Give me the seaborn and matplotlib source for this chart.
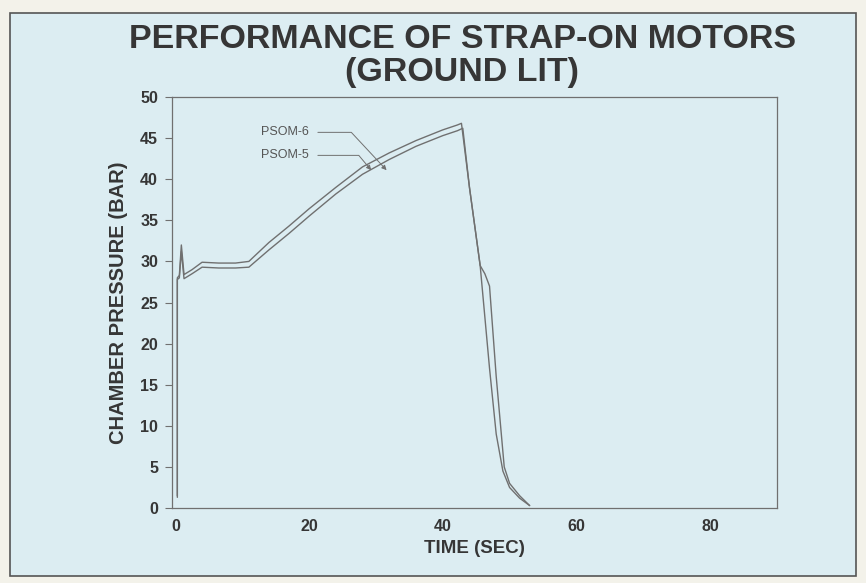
import numpy as np
import pandas as pd
import matplotlib
matplotlib.use("Agg")
import matplotlib.pyplot as plt
import seaborn as sns
from matplotlib.patches import Rectangle

# --- data ---
psom6_time = [0.3, 0.3, 0.6, 0.9, 1.3, 2.5, 4.0, 6.5, 9.0, 11.0, 14.0, 17.0, 20.0, 24.0,
              28.0, 32.0, 36.0, 40.0, 42.2, 42.8, 44.0, 45.6, 46.3, 47.0, 48.0, 49.2,
              50.0, 51.5, 53.0]
psom6_pressure = [1.5, 28.0, 28.3, 32.0, 28.4, 29.0, 29.9, 29.8, 29.8, 30.0, 32.3, 34.3,
                  36.4, 39.0, 41.5, 43.2, 44.7, 46.0, 46.6, 46.8, 39.0, 29.5, 28.5, 27.0,
                  16.0, 5.0, 3.0, 1.5, 0.3]

psom5_time = [0.3, 0.3, 0.6, 0.9, 1.3, 2.5, 4.0, 6.5, 9.0, 11.0, 14.0, 17.0, 20.0, 24.0,
              28.0, 32.0, 36.0, 40.0, 42.2, 43.0, 44.0, 45.6, 47.0, 48.0, 49.0, 50.0,
              51.5, 53.0]
psom5_pressure = [1.3, 27.8, 28.0, 31.2, 27.9, 28.5, 29.3, 29.2, 29.2, 29.3, 31.4, 33.4,
                  35.5, 38.2, 40.6, 42.4, 44.0, 45.3, 45.9, 46.2, 39.0, 29.5, 17.0, 9.0,
                  4.5, 2.5, 1.2, 0.3]

x_major = [0, 20, 40, 60, 80]
x_minor = [10, 30, 50, 70, 90]
y_ticks = [0, 5, 10, 15, 20, 25, 30, 35, 40, 45, 50]

df = pd.concat([
    pd.DataFrame({"time": psom6_time, "pressure": psom6_pressure, "motor": "PSOM-6"}),
    pd.DataFrame({"time": psom5_time, "pressure": psom5_pressure, "motor": "PSOM-5"}),
])

BG = "#dcedf2"
INK = "#363636"
LINE = "#707070"

sns.set_theme(style="white")
plt.rcParams['font.family'] = ['Liberation Sans', 'DejaVu Sans']

fig = plt.figure(figsize=(8.66, 5.83), dpi=100)
fig.patch.set_facecolor("#f3f2ea")
fig.patches.append(Rectangle((0.012, 0.012), 0.976, 0.966, transform=fig.transFigure,
                             facecolor=BG, edgecolor="#555555", linewidth=1.2, zorder=-1))

ax = fig.add_axes([0.1986, 0.1286, 0.6986, 0.705])
ax.set_facecolor(BG)

sns.lineplot(data=df, x="time", y="pressure", units="motor", estimator=None, sort=False,
             color=LINE, linewidth=1.0, ax=ax, legend=False)

ax.set_xlim(-0.5, 90)
ax.set_ylim(0, 50)
ax.set_xticks(x_major)
ax.set_xticks(x_minor, minor=True)
ax.set_yticks(y_ticks)
ax.tick_params(axis="x", which="both", direction="in", length=5, width=0.8, color=LINE,
               labelsize=11.5, labelcolor=INK, pad=8)
ax.tick_params(axis="y", direction="out", length=5, width=0.8, color=LINE,
               labelsize=11.5, labelcolor=INK, left=True, pad=5)
for lab in ax.get_xticklabels() + ax.get_yticklabels():
    lab.set_fontweight("bold")
for sp in ax.spines.values():
    sp.set_color(LINE)
    sp.set_linewidth(0.9)

ax.set_xlabel("TIME (SEC)", fontsize=13.5, fontweight="bold", color=INK, labelpad=4)
ax.set_ylabel("CHAMBER PRESSURE (BAR)", fontsize=14.5, fontweight="bold", color=INK, labelpad=9)

fig.text(0.534, 0.933, "PERFORMANCE OF STRAP-ON MOTORS", ha="center", va="center",
         fontsize=24.5, fontweight="bold", color=INK)
fig.text(0.534, 0.876, "(GROUND LIT)", ha="center", va="center",
         fontsize=24.5, fontweight="bold", color=INK)

# leader lines for the labels
ax.annotate("PSOM-6", xy=(31.6, 41.1), xytext=(20.0, 45.7), ha="right", va="center",
            fontsize=9, color="#555555",
            arrowprops=dict(arrowstyle="-|>", color=LINE, lw=0.7, mutation_scale=7,
                            shrinkA=4, shrinkB=0, relpos=(1, 0.5),
                            connectionstyle="angle,angleA=0,angleB=133,rad=0"))
ax.annotate("PSOM-5", xy=(29.3, 41.1), xytext=(20.0, 42.9), ha="right", va="center",
            fontsize=9, color="#555555",
            arrowprops=dict(arrowstyle="-|>", color=LINE, lw=0.7, mutation_scale=7,
                            shrinkA=4, shrinkB=0, relpos=(1, 0.5),
                            connectionstyle="angle,angleA=0,angleB=130,rad=0"))

fig.savefig("out.png", dpi=100, facecolor=fig.get_facecolor())
